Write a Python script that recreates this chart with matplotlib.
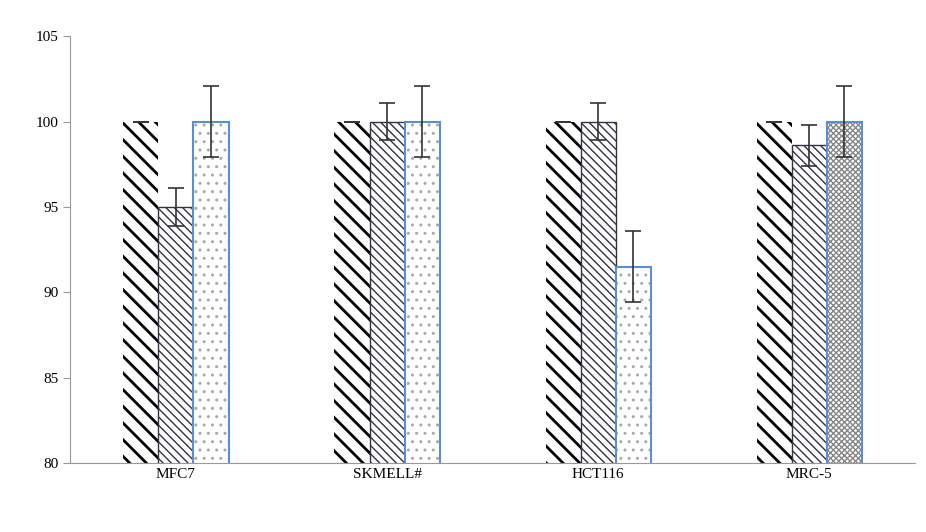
import matplotlib
matplotlib.use("Agg")
import matplotlib.pyplot as plt
import numpy as np

plt.rcParams['font.family'] = ['Liberation Serif']
plt.rcParams['hatch.linewidth'] = 1.0

categories = ["MFC7", "SKMELL#", "HCT116", "MRC-5"]
s1 = [100, 100, 100, 100]
s1_err = [0, 0, 0, 0]
s2 = [95.0, 100.0, 100.0, 98.6]
s2_err = [1.1, 1.1, 1.1, 1.2]
s3 = [100.0, 100.0, 91.5, 100.0]
s3_err = [2.1, 2.1, 2.1, 2.1]

fig = plt.figure(figsize=(9.26, 5.32), dpi=100)
ax = fig.add_axes([0.076, 0.13, 0.912, 0.802])
x = np.arange(len(categories))
w = 0.166
ek = dict(ecolor='#333333', elinewidth=1.2, capsize=6, capthick=1.2)

plt.rcParams['hatch.linewidth'] = 2.0
b1 = ax.bar(x - w, s1, w, bottom=0, yerr=s1_err, color='white', edgecolor='black', hatch='\\\\', linewidth=0, error_kw=ek)
plt.rcParams['hatch.linewidth'] = 1.0
b2 = ax.bar(x, s2, w, yerr=s2_err, color='white', edgecolor='#333344', hatch='\\\\\\\\', linewidth=1, error_kw=ek)
hs = ['..', '..', '..', 'xxxxxx']
for i in range(len(categories)):
    fc = 'white'
    ax.bar(x[i] + w, s3[i], w, yerr=s3_err[i], color=fc, edgecolor='#888888' if i == 3 else '#aaaaaa',
           hatch=hs[i], linewidth=0, error_kw=ek)
    ax.bar(x[i] + w, s3[i], w, color='none', edgecolor='#5b8fd0', linewidth=1.5)

ax.set_ylim(80, 105)
ax.set_xlim(-0.5, 3.5)
ax.set_yticks([80, 85, 90, 95, 100, 105])
ax.set_xticks(x)
ax.set_xticklabels(categories)
for s in ['top', 'right']:
    ax.spines[s].set_visible(False)
for s in ['left', 'bottom']:
    ax.spines[s].set_color('#999999')
ax.tick_params(axis='both', colors='#999999', labelcolor='black', labelsize=11, length=5)
ax.tick_params(axis='x', length=0)
fig.savefig("out.png", dpi=100)
